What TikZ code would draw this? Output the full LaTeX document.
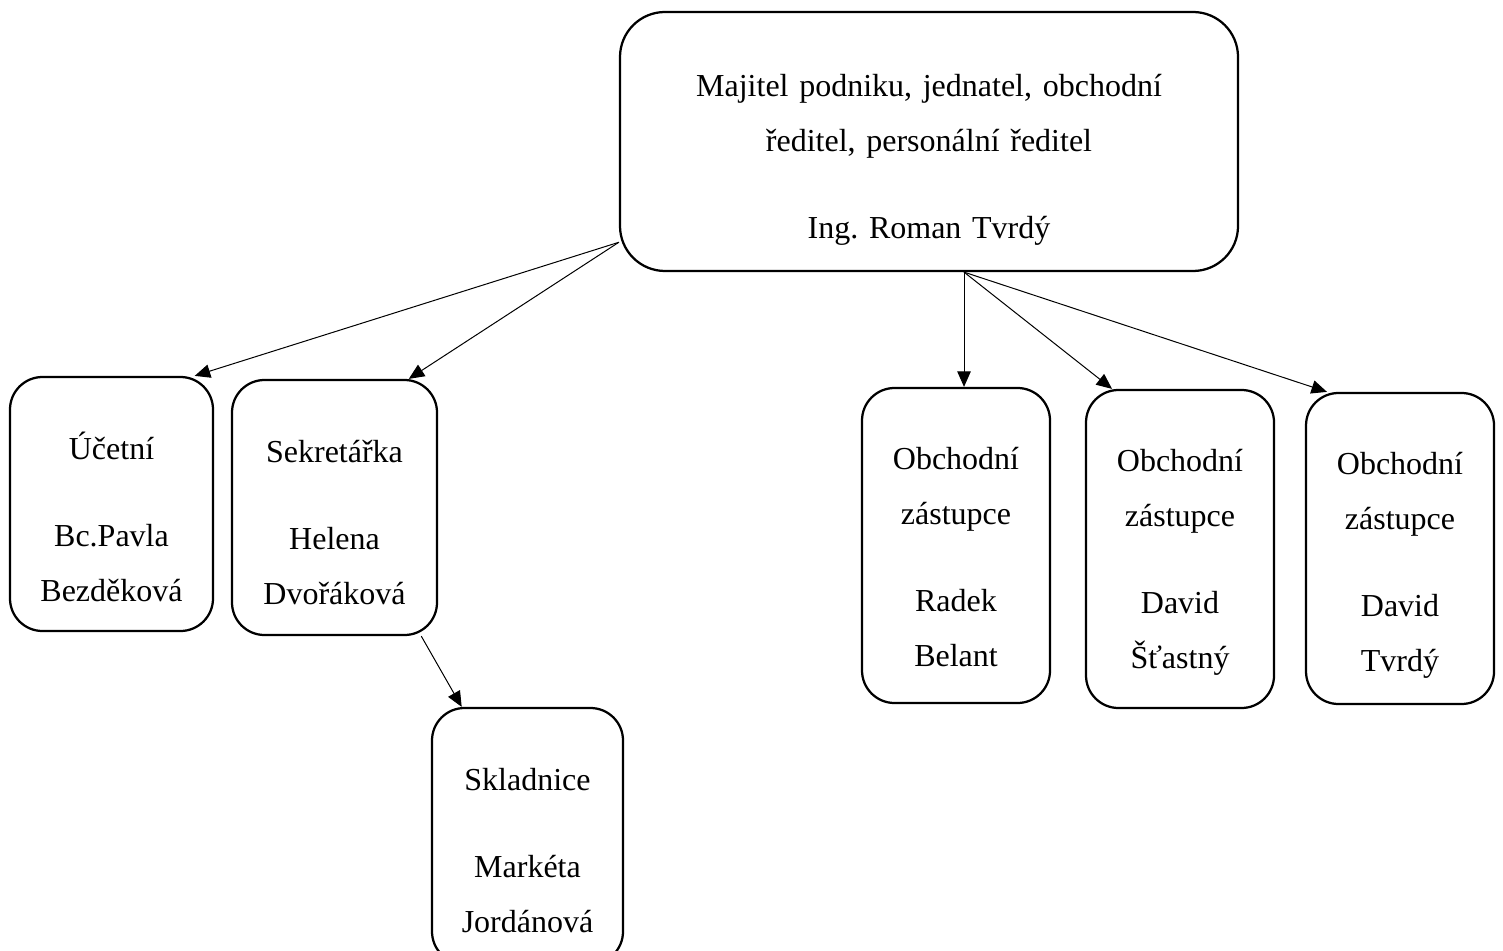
\documentclass[tikz,border=0pt]{standalone}
\usepackage{fontspec}
\setmainfont{Liberation Serif}
\frenchspacing
\usetikzlibrary{arrows.meta}
\begin{document}
\begin{tikzpicture}[x=0.4pt,y=-0.4pt,>={Triangle[length=6.2pt,width=5.4pt]},
    box/.style={draw,line width=0.9pt,rounded corners=13pt,inner sep=0pt},
    txt/.style={anchor=base,align=center,text width=#1,inner sep=0pt,
      font=\fontsize{12.8}{22}\selectfont},
    txt/.default=72pt]
      \useasboundingbox (0,0) rectangle (1503,951);
      % boxes
      \node [box,rounded corners=18pt,minimum width=247.2pt,minimum height=103.6pt] (boss) at (929,141.5) {};
      \node [box,minimum width=81.2pt,minimum height=101.6pt] (ucetni) at (111.5,504) {};
      \node [box,minimum width=82pt,minimum height=102pt] (sekret) at (334.5,507.5) {};
      \node [box,minimum width=76.4pt,minimum height=102.4pt] (sklad) at (527.5,836) {};
      \node [box,minimum width=75.2pt,minimum height=126pt] (obchA) at (956,545.5) {};
      \node [box,minimum width=75.2pt,minimum height=127.2pt] (obchB) at (1180,549) {};
      \node [box,minimum width=75.2pt,minimum height=124.4pt] (obchC) at (1400,548.5) {};
      % texts
      \node [txt=240pt] (bossT) at (929,97) {Majitel podniku, jednatel, obchodní\\ředitel, personální ředitel\\[12.8pt]Ing. Roman Tvrdý};
      \node [txt] (ucetniT) at (111.5,459) {Účetní\\[12.8pt]Bc.Pavla\\Bezděková};
      \node [txt] (sekretT) at (334.5,462) {Sekretářka\\[12.8pt]Helena\\Dvořáková};
      \node [txt] (skladT) at (527.5,790) {Skladnice\\[12.8pt]Markéta\\Jordánová};
      \node [txt] (obchAT) at (956,469) {Obchodní\\zástupce\\[12.8pt]Radek\\Belant};
      \node [txt] (obchBT) at (1180,471) {Obchodní\\zástupce\\[12.8pt]David\\Šťastný};
      \node [txt] (obchCT) at (1400,474) {Obchodní\\zástupce\\[12.8pt]David\\Tvrdý};
      % arrows
      \draw [->] (boss.198) -- (ucetni.57.6);
      \draw [->] (boss.198) -- (sekret.60.6);
      \draw [->] (boss.-75.7) -- (boss.-75.7 |- obchA.north);
      \draw [->] (boss.-75.7) -- (obchB.113.9);
      \draw [->] (boss.-75.7) -- (obchC.115.75);
      \draw [->] (sekret.-56.6) -- (sklad.117.3);
    \end{tikzpicture}
\end{document}
